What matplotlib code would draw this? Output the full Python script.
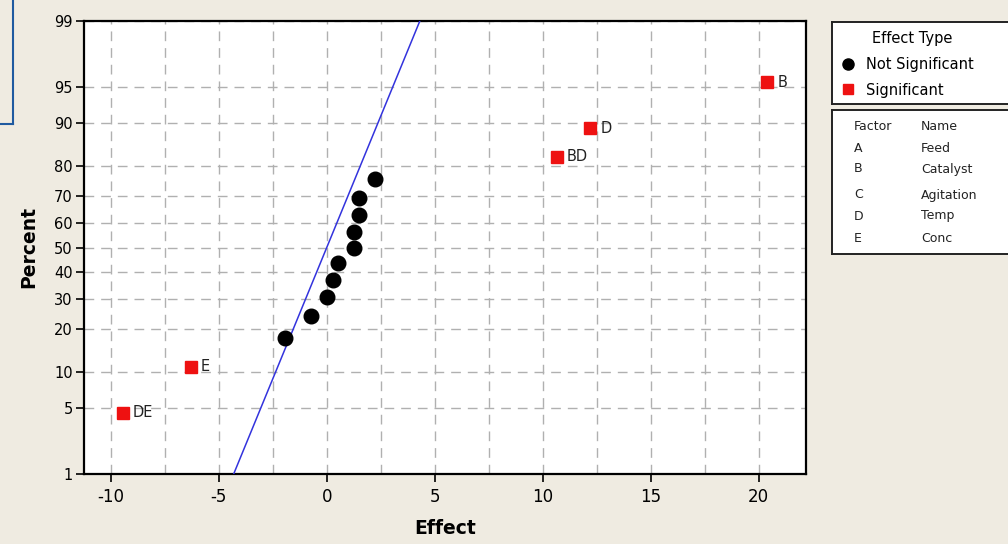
import matplotlib
matplotlib.use("Agg")
import matplotlib.pyplot as plt
import numpy as np
from statistics import NormalDist

plt.rcParams["axes.unicode_minus"] = False

# effects
insig_effect = [-1.94, -0.75, 0.01, 0.28, 0.54, 1.24, 1.24, 1.47, 1.47, 2.25]
insig_pct = [17.5, 24.0, 30.5, 37.0, 43.5, 50.0, 56.5, 63.0, 69.5, 76.0]

sig_names = ["DE", "E", "BD", "D", "B"]
sig_effect = [-9.45, -6.28, 10.65, 12.2, 20.4]
sig_pct = [4.5, 11.0, 82.5, 89.0, 95.5]

line_effect = [-4.31, 4.31]
line_pct = [1, 99]

y_ticks = [1, 5, 10, 20, 30, 40, 50, 60, 70, 80, 90, 95, 99]
x_ticks = [-10, -5, 0, 5, 10, 15, 20]

factors = ["A", "B", "C", "D", "E"]
factor_names = ["Feed", "Catalyst", "Agitation", "Temp", "Conc"]

nd = NormalDist()
_inv = np.vectorize(nd.inv_cdf, otypes=[float])
_cdf = np.vectorize(nd.cdf, otypes=[float])


def fwd(p):
    p = np.clip(np.asarray(p, dtype=float) / 100.0, 1e-9, 1 - 1e-9)
    return _inv(p)


def back(z):
    return _cdf(np.asarray(z, dtype=float)) * 100.0


bg = "#efebe1"
W, H = 1008, 544
fig = plt.figure(figsize=(W / 100, H / 100), dpi=100, facecolor=bg)


def fx(px):
    return px / W


def fy(py):
    return 1 - py / H


ax = fig.add_axes([fx(84), fy(474), fx(806) - fx(84), fy(21) - fy(474)])
ax.set_facecolor("white")
ax.set_yscale("function", functions=(fwd, back))
ax.set_ylim(1, 99)
ax.set_xlim(-11.24, 22.19)
ax.set_yticks(y_ticks)
ax.set_yticklabels([str(t) for t in y_ticks])
ax.set_xticks(x_ticks)
ax.set_xticks(np.arange(-10, 22.5, 2.5), minor=True)
ax.yaxis.set_minor_locator(matplotlib.ticker.NullLocator())

ax.grid(True, which="both", axis="x", color="#b0b0b0", linestyle=(0, (7, 5)), linewidth=1)
ax.grid(True, which="major", axis="y", color="#b0b0b0", linestyle=(0, (7, 5)), linewidth=1)
ax.set_axisbelow(True)

for s in ax.spines.values():
    s.set_linewidth(1.6)
    s.set_color("black")
ax.tick_params(axis="both", which="major", direction="out", length=6, width=1.2, color="black")
ax.tick_params(axis="x", which="major", labelsize=12, pad=4)
ax.tick_params(axis="y", which="major", labelsize=10.5, pad=2)
ax.tick_params(axis="x", which="minor", length=0)

ax.plot(line_effect, line_pct, color="#3333dd", linewidth=1.1, zorder=3)
ax.plot(insig_effect, insig_pct, "o", color="black", markersize=10.5, zorder=4)
ax.plot(sig_effect, sig_pct, "s", color="#ee1111", markersize=9, zorder=4)
for n, e, p in zip(sig_names, sig_effect, sig_pct):
    ax.annotate(n, (e, p), xytext=(10, 0), textcoords="offset pixels",
                ha="left", va="center", fontsize=10.5, color="#222222")

ax.set_xlabel("Effect", fontsize=13.5, fontweight="bold")
ax.set_ylabel("Percent", fontsize=13.5, fontweight="bold")
ax.xaxis.set_label_coords(0.5, -0.1)
ax.yaxis.set_label_coords(-0.063, 0.5)

# legend boxes
lg1 = fig.add_axes([fx(832), fy(104), fx(1020) - fx(832), fy(22) - fy(104)])
lg2 = fig.add_axes([fx(832), fy(254), fx(1020) - fx(832), fy(110) - fy(254)])
for a in (lg1, lg2):
    a.set_facecolor("white")
    a.set_xticks([])
    a.set_yticks([])
    a.set_xlim(832, 1020)
    for s in a.spines.values():
        s.set_linewidth(1.4)
        s.set_color("#222222")
lg1.set_ylim(104, 22)
lg2.set_ylim(254, 110)

lg1.text(872, 39, "Effect Type", fontsize=10.5, va="center", ha="left")
lg1.plot([848], [64], "o", color="black", markersize=8)
lg1.text(866, 64, "Not Significant", fontsize=10.5, va="center", ha="left")
lg1.plot([848], [89], "s", color="#ee1111", markersize=7)
lg1.text(866, 90, "Significant", fontsize=10.5, va="center", ha="left")

lg2.text(854, 127, "Factor", fontsize=9, va="center", ha="left", color="#222222")
lg2.text(921, 127, "Name", fontsize=9, va="center", ha="left", color="#222222")
row_y = [148, 169, 195, 216, 238]
for f, nm, yy in zip(factors, factor_names, row_y):
    lg2.text(854, yy, f, fontsize=9, va="center", ha="left", color="#222222")
    lg2.text(921, yy, nm, fontsize=9, va="center", ha="left", color="#222222")

# blue frame remnant at the top-left corner
fig.add_artist(plt.Line2D([fx(13), fx(13)], [fy(0), fy(124)], color="#1f5aa0", linewidth=1.5))
fig.add_artist(plt.Line2D([fx(0), fx(13)], [fy(124), fy(124)], color="#1f5aa0", linewidth=1.5))

fig.savefig("out.png", dpi=100, facecolor=bg)
